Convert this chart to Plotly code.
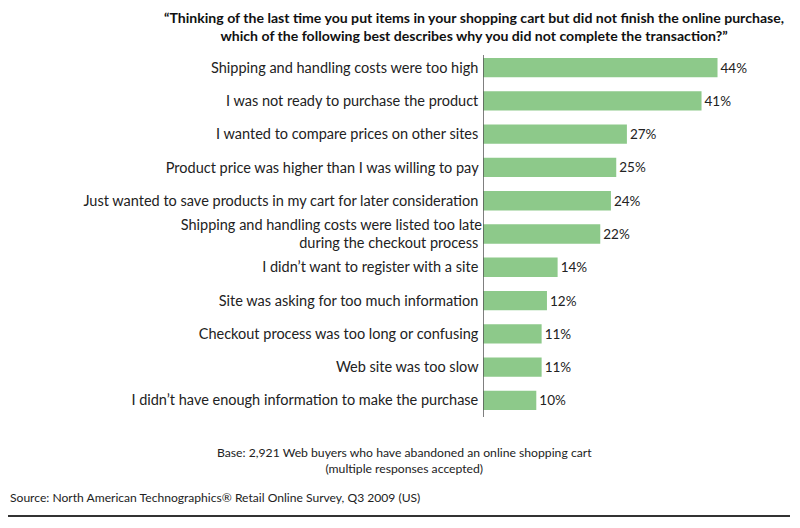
import plotly.graph_objects as go

categories = [
    "Shipping and handling costs were too high",
    "I was not ready to purchase the product",
    "I wanted to compare prices on other sites",
    "Product price was higher than I was willing to pay",
    "Just wanted to save products in my cart for later consideration",
    "Shipping and handling costs were listed too late<br>during the checkout process",
    "I didn\u2019t want to register with a site",
    "Site was asking for too much information",
    "Checkout process was too long or confusing",
    "Web site was too slow",
    "I didn\u2019t have enough information to make the purchase",
]
values = [44, 41, 27, 25, 24, 22, 14, 12, 11, 11, 10]
value_labels = [f"{v}%" for v in values]

title_text = ("<b>\u201cThinking of the last time you put items in your shopping cart but did not finish the online purchase,<br>"
              "which of the following best describes why you did not complete the transaction?\u201d</b>")
base_text = "Base: 2,921 Web buyers who have abandoned an online shopping cart<br>(multiple responses accepted)"
source_text = "Source: North American Technographics\u00ae Retail Online Survey, Q3 2009 (US)"

FONT = "Lato"
TXT = "#222222"

# page body has an 8px default margin; layout is expressed in screen pixels
OFF = 8
L, T, B = 475, 43, 119
PW, PH = 800 - L, 528 - T - B


def px(xs):
    return (xs - OFF - L) / PW


def py(ys):
    return 1 - (ys - OFF - T) / PH


fig = go.Figure(go.Bar(
    x=values, y=categories, orientation="h",
    marker=dict(color="#8dc98a", line=dict(width=0)),
    width=0.58,
    text=value_labels, textposition="outside", cliponaxis=False,
    textfont=dict(family=FONT, size=13.5, color=TXT),
))

fig.update_layout(
    width=800, height=528,
    margin=dict(l=L, r=0, t=T, b=B),
    paper_bgcolor="white", plot_bgcolor="white",
    showlegend=False,
    font=dict(family=FONT, color=TXT),
    xaxis=dict(range=[0, PW / 5.33], visible=False, fixedrange=True),
    yaxis=dict(autorange="reversed", showgrid=False, zeroline=False,
               showline=False, ticks="", ticksuffix=" ",
               tickfont=dict(family=FONT, size=14.5, color=TXT)),
    shapes=[
        dict(type="line", xref="x", yref="paper", x0=0, x1=0, y0=py(417), y1=py(55),
             line=dict(color="#555555", width=1.5)),
        dict(type="line", xref="paper", yref="paper", x0=px(5), x1=px(790),
             y0=py(516), y1=py(516), line=dict(color="#333333", width=2)),
    ],
    annotations=[
        dict(text=title_text, xref="paper", yref="paper",
             x=px(474), y=py(8), xanchor="center", yanchor="top",
             showarrow=False, align="center", borderpad=0,
             font=dict(family=FONT, size=14.1, color="#111111")),
        dict(text=base_text, xref="paper", yref="paper",
             x=px(404), y=py(461), xanchor="center", yanchor="middle",
             showarrow=False, align="center", font=dict(family=FONT, size=12.2, color=TXT)),
        dict(text=source_text, xref="paper", yref="paper",
             x=px(8), y=py(497), xanchor="left", yanchor="middle",
             showarrow=False, align="left", font=dict(family=FONT, size=12.1, color=TXT)),
    ],
)

fig.write_html("out.html")
